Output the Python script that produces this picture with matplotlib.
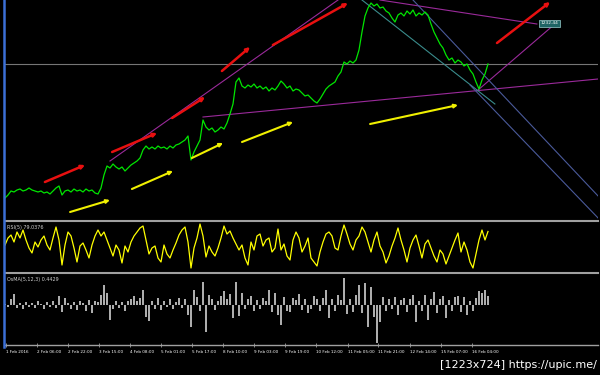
import numpy as np
import matplotlib
matplotlib.use("Agg")
import matplotlib.pyplot as plt
from matplotlib.lines import Line2D

# close prices (chart units), one value every bar
price = [22, 25, 29, 28, 30, 31, 29, 30, 32, 30,
         29, 28, 29, 27, 28, 26, 29, 32, 34, 25,
         29, 30, 28, 31, 29, 30, 28, 31, 29, 30,
         27, 26, 32, 45, 54, 52, 56, 53, 51, 53,
         49, 52, 55, 57, 59, 62, 70, 74, 71, 73,
         71, 74, 72, 73, 71, 74, 72, 75, 76, 78,
         80, 84, 60, 68, 74, 80, 100, 93, 90, 92,
         88, 90, 93, 91, 97, 106, 116, 138, 142, 134,
         132, 135, 133, 136, 132, 134, 131, 133, 129, 132,
         130, 134, 139, 136, 132, 134, 129, 131, 130, 127,
         124, 125, 122, 119, 117, 121, 126, 131, 134, 136,
         138, 144, 148, 158, 156, 159, 157, 160, 170, 188,
         204, 212, 217, 214, 216, 212, 213, 209, 207, 202,
         198, 205, 207, 204, 209, 206, 210, 204, 207, 205,
         208, 205, 196, 188, 182, 176, 172, 165, 160, 162,
         157, 160, 158, 154, 156, 150, 146, 138, 131, 140,
         146, 156]

rsi = [52, 66, 72, 58, 78, 66, 82, 62, 46, 36,
       58, 48, 62, 70, 52, 42, 66, 88, 62, 12,
       52, 78, 70, 46, 18, 50, 56, 42, 26, 52,
       70, 82, 70, 78, 62, 46, 30, 52, 42, 16,
       50, 38, 58, 70, 78, 86, 90, 62, 34, 46,
       50, 26, 18, 52, 34, 26, 42, 56, 72, 82,
       88, 58, 6, 46, 66, 94, 70, 28, 50, 38,
       30, 46, 66, 90, 74, 80, 66, 54, 42, 52,
       26, 12, 58, 42, 70, 74, 50, 62, 66, 38,
       46, 84, 42, 54, 30, 22, 62, 78, 66, 38,
       50, 66, 26, 18, 10, 38, 58, 74, 78, 70,
       46, 42, 70, 92, 74, 54, 42, 62, 70, 88,
       78, 58, 38, 62, 78, 50, 38, 16, 30, 50,
       66, 86, 62, 42, 18, 46, 62, 72, 50, 26,
       54, 62, 46, 30, 18, 42, 34, 14, 30, 46,
       62, 76, 38, 58, 42, 18, 6, 34, 62, 82,
       62, 79]

osma = [0.05, -0.1, 0.3, 0.55, -0.15, 0.1, -0.2, 0.15, -0.1, 0.1,
        -0.15, 0.2, 0.05, -0.2, 0.15, -0.1, 0.2, -0.15, 0.45, -0.35,
        0.35, 0.1, -0.2, 0.15, -0.25, 0.2, 0.1, -0.3, 0.25, -0.4,
        0.2, 0.15, 0.5, 1.0, 0.6, -0.75, -0.2, 0.2, -0.15, 0.15,
        -0.3, 0.2, 0.3, 0.45, 0.2, 0.35, 0.75, -0.6, -0.8, 0.2,
        -0.2, 0.35, -0.25, 0.2, -0.1, 0.3, -0.2, 0.15, 0.35, -0.15,
        0.3, -0.5, -1.1, 0.75, 0.4, -0.3, 1.15, -1.35, 0.5, 0.3,
        -0.25, 0.2, 0.45, 0.7, 0.3, 0.55, -0.65, 1.15, -0.55, 0.6,
        -0.2, 0.3, 0.45, -0.3, 0.25, -0.2, 0.35, 0.2, 0.75, -0.35,
        0.6, -0.5, -1.0, 0.4, -0.3, -0.35, 0.35, 0.25, 0.55, -0.25,
        0.3, -0.4, -0.2, 0.45, 0.3, -0.3, 0.35, 0.75, -0.65, 0.3,
        -0.3, 0.5, 0.25, 1.35, -0.45, 0.3, -0.35, 0.5, 1.0, -0.4,
        1.1, -1.1, 0.9, -0.6, -1.9, -0.85, 0.4, -0.3, 0.3, -0.2,
        0.4, -0.5, 0.25, 0.35, -0.35, 0.3, 0.5, -0.85, 0.2, -0.3,
        0.5, -0.75, 0.3, 0.65, -0.4, 0.3, 0.45, -0.65, 0.25, -0.3,
        0.4, 0.45, -0.35, 0.4, -0.5, 0.2, -0.3, 0.35, 0.7, 0.6,
        0.75, 0.44]

# hand drawn objects: (bar, price) start -> end
red_arrows = [((13.3, 38), (26.7, 55)), ((35.7, 68), (50.7, 87)),
              ((55.7, 102), (66.7, 123)), ((72.3, 149), (81.7, 173)),
              ((89.3, 175), (114.3, 217)), ((164, 177), (181.7, 218))]
yellow_arrows = [((21.7, 8), (35, 20)), ((42.3, 31), (56, 49)),
                 ((62.3, 62), (72.7, 77)), ((79, 78), (96, 98)),
                 ((121.7, 96), (151, 115))]
purple_lines = [((35, 59), (111, 220)), ((66, 103), (197.7, 141)),
                ((125, 220), (177.3, 196)), ((157.3, 129), (183.3, 196))]
teal_lines = [((119, 220), (163.3, 116))]
blue_lines = [((136, 220), (197.7, 24)), ((155, 135), (197.7, 2))]
bid_level = 156
label_pos = (181.5, 196.5)
label_text = "1232.44"

tick_bars = [0.3, 10.7, 21.0, 31.4, 41.7, 52.1, 62.4, 72.8, 83.1, 93.5,
             103.8, 114.2, 124.5, 134.9, 145.2, 155.6]
tick_labels = ["1 Feb 2016", "2 Feb 06:00", "2 Feb 22:00", "3 Feb 15:00",
               "4 Feb 08:00", "5 Feb 01:00", "5 Feb 17:00", "8 Feb 10:00",
               "9 Feb 03:00", "9 Feb 19:00", "10 Feb 12:00", "11 Feb 05:00",
               "11 Feb 21:00", "12 Feb 14:00", "15 Feb 07:00", "16 Feb 04:00"]

W, H = 600, 375
fig = plt.figure(figsize=(6, 3.75), dpi=100, facecolor="black")


def px_axes(top, bottom):
    return fig.add_axes([5 / W, 1 - bottom / H, 593 / W, (bottom - top) / H],
                        facecolor="black")


ax = px_axes(0, 219)
ax_r = px_axes(221, 272)
ax_o = px_axes(273, 345)

for a in (ax, ax_r, ax_o):
    a.set_xlim(0, 197.67)
    for s in a.spines.values():
        s.set_visible(False)
    a.set_yticks([])
    a.set_xticks([])

# main price window
ax.set_ylim(1, 220)
ax.axhline(bid_level, color="#767676", lw=0.8)
for (x0, y0), (x1, y1) in purple_lines:
    ax.plot([x0, x1], [y0, y1], color="#9a2a9a", lw=0.8)
for (x0, y0), (x1, y1) in teal_lines:
    ax.plot([x0, x1], [y0, y1], color="#3a8c8c", lw=0.8)
for (x0, y0), (x1, y1) in blue_lines:
    ax.plot([x0, x1], [y0, y1], color="#4a5a9a", lw=0.8)
ax.plot(np.arange(len(price)), price, color="#00e600", lw=0.9)
for (x0, y0), (x1, y1) in red_arrows:
    ax.annotate("", xy=(x1, y1), xytext=(x0, y0),
                arrowprops=dict(arrowstyle="-|>", color="#e81010", lw=1.8,
                                mutation_scale=5, shrinkA=0, shrinkB=0))
for (x0, y0), (x1, y1) in yellow_arrows:
    ax.annotate("", xy=(x1, y1), xytext=(x0, y0),
                arrowprops=dict(arrowstyle="-|>", color="#f0f000", lw=1.5,
                                mutation_scale=5, shrinkA=0, shrinkB=0))
ax.text(label_pos[0], label_pos[1], label_text, fontsize=3.2, color="white",
        ha="center", va="center",
        bbox=dict(boxstyle="square,pad=0.25", fc="#1e6464", ec="#9ad0d0", lw=0.5))

# RSI window
ax_r.set_ylim(-2, 100)
ax_r.spines["top"].set_visible(True)
ax_r.spines["top"].set_color("#a0a0a0")
ax_r.spines["top"].set_linewidth(1.5)
ax_r.plot(np.arange(len(rsi)), rsi, color="#ffff00", lw=0.9)
ax_r.text(0.004, 0.93, "RSI(5) 79.0376", transform=ax_r.transAxes,
          fontsize=3.5, color="#d0d0d0", va="top")

# OsMA window
ax_o.set_ylim(-2.0, 1.6)
ax_o.spines["top"].set_visible(True)
ax_o.spines["top"].set_color("#a0a0a0")
ax_o.spines["top"].set_linewidth(1.5)
ax_o.spines["bottom"].set_visible(True)
ax_o.spines["bottom"].set_color("#a0a0a0")
ax_o.spines["bottom"].set_linewidth(1.0)
ax_o.vlines(np.arange(len(osma)), 0, osma, color="#d0d0d0", lw=1.2)
ax_o.text(0.004, 0.95, "OsMA(5,12,3) 0.4429", transform=ax_o.transAxes,
          fontsize=3.5, color="#d0d0d0", va="top")
ax_o.set_xticks(tick_bars)
ax_o.set_xticklabels(tick_labels, fontsize=3.0, color="white")
for lbl in ax_o.get_xticklabels():
    lbl.set_ha("left")
ax_o.tick_params(axis="x", colors="#a0a0a0", labelcolor="white",
                 length=3, width=0.6, direction="inout", pad=2)

# blue separator on the left edge
fig.add_artist(Line2D([4 / W, 4 / W], [1 - 347 / H, 1], transform=fig.transFigure,
                      color="#3b6fd6", lw=1.8))

fig.text(597 / W, 1 - 365 / H, "[1223x724] https://upic.me/", color="white",
         fontsize=8, ha="right", va="center")

fig.savefig("out.png", dpi=100, facecolor="black")
